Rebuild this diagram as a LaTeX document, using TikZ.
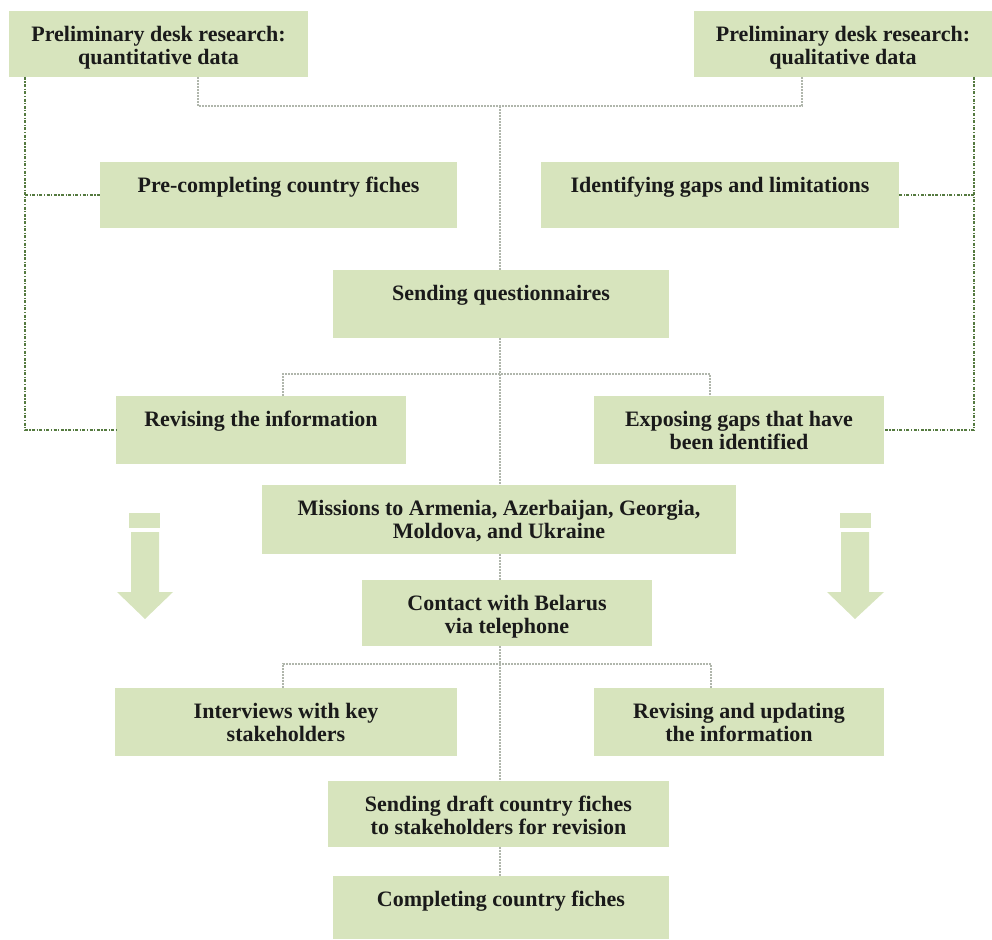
\documentclass[tikz,border=0pt]{standalone}
\usepackage{fontspec}
\setmainfont{Liberation Serif}
\definecolor{boxfill}{HTML}{D7E4BD}
\definecolor{dkgreen}{HTML}{557A40}
\definecolor{dotgray}{HTML}{B0B6AC}
\definecolor{txtcol}{HTML}{1A1A1A}
\tikzset{
  boxst/.style={rectangle, fill=boxfill, draw=none, inner sep=0pt, outer sep=0pt},
  txt/.style={anchor=north, inner sep=0pt, align=center, text=txtcol,
    font=\fontsize{22}{23}\selectfont\bfseries},
  gry/.style={draw=dotgray, line width=1.4pt, dash pattern=on 2pt off 1pt},
  grn/.style={draw=dkgreen, line width=2pt, dash pattern=on 3pt off 1.5pt on 1.2pt off 1.5pt},
  arrowfill/.style={fill=boxfill}
}
\newcommand\mybox[6]{%
  \node[boxst, minimum width={#4pt-#2pt}, minimum height={#5pt-#3pt}] (#1) at ({(#2+#4)/2},{(#3+#5)/2}) {};
  \node[txt] (#1t) at ([yshift=-15pt]#1.north) {#6};}
\begin{document}
\begin{tikzpicture}[x=1pt,y=-1pt]
\useasboundingbox (0,0) rectangle (992,939);
\mybox{quant}{9}{11}{308}{77}{Preliminary desk research:\\quantitative data}
\mybox{qual}{694}{11}{992}{77}{Preliminary desk research:\\qualitative data}
\mybox{precomp}{100}{162}{457}{228}{Pre-completing country fiches}
\mybox{ident}{541}{162}{899}{228}{Identifying gaps and limitations}
\mybox{sendq}{333}{270}{669}{338}{Sending questionnaires}
\mybox{revinfo}{116}{396}{406}{464}{Revising the information}
\mybox{expose}{594}{396}{884}{464}{Exposing gaps that have\\been identified}
\mybox{missions}{262}{485}{736}{554}{Missions to Armenia, Azerbaijan, Georgia,\\Moldova, and Ukraine}
\mybox{contact}{362}{580}{652}{646}{Contact with Belarus\\via telephone}
\mybox{interv}{115}{688}{457}{756}{Interviews with key\\stakeholders}
\mybox{revupd}{594}{688}{884}{756}{Revising and updating\\the information}
\mybox{draft}{328}{781}{669}{847}{Sending draft country fiches\\to stakeholders for revision}
\mybox{compl}{333}{876}{669}{939}{Completing country fiches}
% junction coordinates
\coordinate (j1) at (500,106);
\coordinate (j1L) at (198,106);
\coordinate (j1R) at (802,106);
\coordinate (j2) at (500,374);
\coordinate (j2L) at (283,374);
\coordinate (j2R) at (710,374);
\coordinate (j3) at (500,664);
\coordinate (j3L) at (283,664);
\coordinate (j3R) at (711,664);
\coordinate (gL) at (25,0);
\coordinate (gR) at (974,0);
% gray dotted connectors
\draw[gry] (quant.south -| j1L) -- (j1L) -- (j1R) -- (qual.south -| j1R);
\draw[gry] (j1) -- (j1 |- sendq.north);
\draw[gry] (j1 |- sendq.south) -- (j2);
\draw[gry] (revinfo.north -| j2L) -- (j2L) -- (j2R) -- (expose.north -| j2R);
\draw[gry] (j2) -- (j2 |- missions.north);
\draw[gry] (j2 |- missions.south) -- (j2 |- contact.north);
\draw[gry] (j3 |- contact.south) -- (j3);
\draw[gry] (interv.north -| j3L) -- (j3L) -- (j3R) -- (revupd.north -| j3R);
\draw[gry] (j3) -- (j3 |- draft.north);
\draw[gry] (j3 |- draft.south) -- (j3 |- compl.north);
% dark green dash-dot connectors
\draw[grn] (quant.south -| gL) |- (revinfo.west);
\draw[grn] (gL |- precomp.west) -- (precomp.west);
\draw[grn] (qual.south -| gR) |- (expose.east);
\draw[grn] (gR |- ident.east) -- (ident.east);
% block arrows
\fill[arrowfill] (129,513) rectangle (160,528);
\fill[arrowfill] (131,532) -- (159,532) -- (159,592) -- (173,592) -- (145,619) -- (117,592) -- (131,592) -- cycle;
\fill[arrowfill] (840,513) rectangle (871,528);
\fill[arrowfill] (841,532) -- (869,532) -- (869,592) -- (884,592) -- (855,619) -- (827,592) -- (841,592) -- cycle;
\end{tikzpicture}
\end{document}
